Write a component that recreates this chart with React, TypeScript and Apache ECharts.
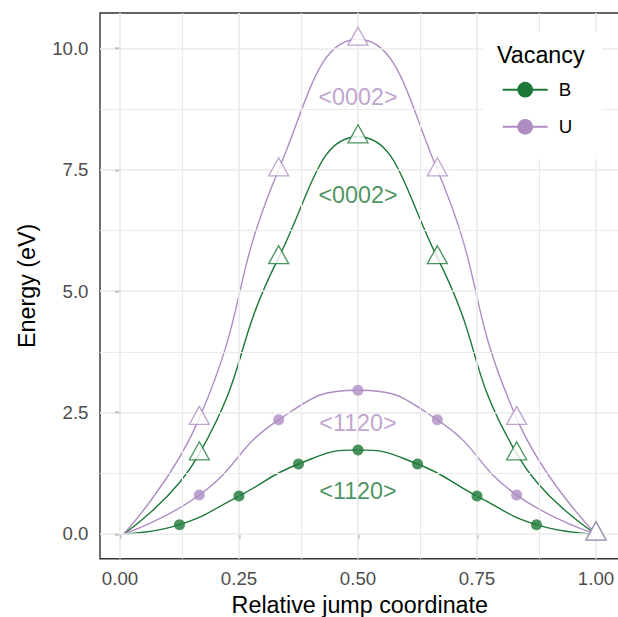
import React, { useEffect, useRef } from "react";
import * as echarts from "echarts";

const FONT = "'Liberation Sans', Arial, Helvetica, sans-serif";
const GREEN = "#1B7837";
const PURPLE = "#AF8DC3";

// <0002> path: images along the jump coordinate
const basalX = [0.0075, 1 / 6, 1 / 3, 1 / 2, 2 / 3, 5 / 6, 1];
const basalB = [0, 1.65, 5.69, 8.18, 5.69, 1.65, 0];
const basalU = [0, 2.38, 7.5, 10.19, 7.5, 2.38, 0];

// <1120> paths
const prismXB = [0.0075, 0.125, 0.25, 0.375, 0.5, 0.625, 0.75, 0.875, 1];
const prismB = [0, 0.19, 0.78, 1.44, 1.73, 1.44, 0.78, 0.19, 0];
const prismXU = [0.0075, 1 / 6, 1 / 3, 1 / 2, 2 / 3, 5 / 6, 1];
const prismU = [0, 0.8, 2.35, 2.96, 2.35, 0.8, 0];

const xTicks = [0, 0.25, 0.5, 0.75, 1];
const xMinor = [0.125, 0.375, 0.625, 0.875];
const yTicks = [0, 2.5, 5, 7.5, 10];
const yMinor = [1.25, 3.75, 6.25, 8.75];

const vacancies = ["B", "U"];
const pathLabels = ["<0002>", "<0002>", "<1120>", "<1120>"];
const pathLabelY = [9.0, 6.99, 2.29, 0.89];
const pathLabelVacancy = ["U", "B", "U", "B"];

const pairs = (xs: number[], ys: number[]) => xs.map((x, i) => [x, ys[i]]);

export default function App() {
  const ref = useRef<HTMLDivElement>(null);

  useEffect(() => {
    if (!ref.current) return;
    const chart = echarts.init(ref.current, undefined, { renderer: "svg" });

    const colorOf = (v: string) => (v === "B" ? GREEN : PURPLE);

    const curve = (name: string, xs: number[], ys: number[]) => ({
      name,
      type: "line",
      data: pairs(xs, ys),
      smooth: true,
      showSymbol: false,
      symbol: "circle",
      z: 3,
      color: colorOf(name),
      lineStyle: { color: colorOf(name), width: 1.4 },
      itemStyle: { color: colorOf(name) },
    });

    const triangles = (name: string, xs: number[], ys: number[]) => ({
      name: name + " <0002> images",
      type: "scatter",
      data: pairs(xs, ys).slice(1),
      symbol: "triangle",
      symbolSize: [20, 18],
      symbolOffset: [0, -3],
      z: 5,
      itemStyle: { color: "#ffffff", borderColor: colorOf(name), borderWidth: 1.3 },
    });

    const dots = (name: string, xs: number[], ys: number[]) => ({
      name: name + " <1120> images",
      type: "scatter",
      data: pairs(xs, ys).slice(1, -1),
      symbol: "circle",
      symbolSize: 11,
      z: 5,
      itemStyle: { color: colorOf(name) },
    });

    const gridLine = (axis: "xAxis" | "yAxis", v: number, width: number) => ({
      [axis]: v,
      lineStyle: { color: "#EBEBEB", width, type: "solid" },
    });

    const option = {
      animation: false,
      backgroundColor: "#ffffff",
      textStyle: { fontFamily: FONT },
      grid: {
        left: 100,
        top: 13,
        width: 519.6,
        height: 545.7,
        show: true,
        borderColor: "#333333",
        borderWidth: 1.4,
        backgroundColor: "#ffffff",
        containLabel: false,
        outerBoundsMode: "none",
      },
      xAxis: {
        type: "value",
        min: -0.042,
        max: 1.0496,
        name: "Relative jump coordinate",
        nameLocation: "middle",
        nameGap: 34.5,
        nameTextStyle: { fontSize: 23.3, color: "#000000", fontFamily: FONT },
        axisLine: { show: false },
        axisTick: {
          show: true,
          customValues: xTicks,
          length: 5,
          lineStyle: { color: "#333333", width: 1.4 },
        },
        axisLabel: {
          customValues: xTicks,
          formatter: (v: number) => v.toFixed(2),
          color: "#4D4D4D",
          fontSize: 18.7,
          fontFamily: FONT,
          margin: 10,
        },
        splitLine: { show: false },
      },
      yAxis: {
        type: "value",
        min: -0.511,
        max: 10.73,
        name: "Energy (eV)",
        nameLocation: "middle",
        nameGap: 61.3,
        nameTextStyle: { fontSize: 23.3, color: "#000000", fontFamily: FONT },
        axisLine: { show: false },
        axisTick: {
          show: true,
          customValues: yTicks,
          length: 5,
          lineStyle: { color: "#333333", width: 1.4 },
        },
        axisLabel: {
          customValues: yTicks,
          formatter: (v: number) => v.toFixed(1),
          color: "#4D4D4D",
          fontSize: 18.7,
          fontFamily: FONT,
          margin: 11.5,
        },
        splitLine: { show: false },
      },
      legend: {
        data: vacancies,
        orient: "vertical",
        left: 501.7,
        top: 80.2,
        padding: 0,
        itemWidth: 45,
        itemHeight: 19.6,
        itemGap: 18.1,
        selectedMode: false,
        z: 20,
        textStyle: { fontSize: 18.7, color: "#000000", fontFamily: FONT, padding: [0, 0, 0, 6] },
      },
      graphic: [
        {
          type: "rect",
          z: 15,
          silent: true,
          shape: { x: 483, y: 32, width: 119, height: 127 },
          style: { fill: "#ffffff" },
        },
        {
          type: "text",
          z: 21,
          silent: true,
          x: 497,
          y: 54.7,
          style: {
            text: "Vacancy",
            font: `23.3px ${FONT}`,
            fill: "#000000",
            verticalAlign: "middle",
            textVerticalAlign: "middle",
          },
        },
      ],
      series: [
        {
          name: "panel grid",
          type: "line",
          data: [],
          z: 1,
          silent: true,
          markLine: {
            silent: true,
            symbol: ["none", "none"],
            label: { show: false },
            emphasis: { disabled: true },
            animation: false,
            data: [
              ...xMinor.map((v) => gridLine("xAxis", v, 1.1)),
              ...yMinor.map((v) => gridLine("yAxis", v, 1.1)),
              ...xTicks.map((v) => gridLine("xAxis", v, 1.7)),
              ...yTicks.map((v) => gridLine("yAxis", v, 1.7)),
            ],
          },
        },
        curve("B", prismXB, prismB),
        curve("U", prismXU, prismU),
        curve("B", basalX, basalB),
        curve("U", basalX, basalU),
        dots("B", prismXB, prismB),
        dots("U", prismXU, prismU),
        triangles("B", basalX, basalB),
        triangles("U", basalX, basalU),
        {
          name: "path labels",
          type: "scatter",
          symbolSize: 1,
          z: 6,
          silent: true,
          itemStyle: { color: "rgba(0,0,0,0)" },
          data: pathLabels.map((t, i) => ({
            name: t,
            value: [0.5, pathLabelY[i]],
            label: {
              show: true,
              position: "inside",
              formatter: t,
              color: colorOf(pathLabelVacancy[i]),
              fontSize: 23.3,
              fontFamily: FONT,
            },
          })),
        },
      ],
    };

    chart.setOption(option as any);
    return () => chart.dispose();
  }, []);

  return (
    <div
      ref={ref}
      style={{ position: "fixed", left: 0, top: 0, width: 618, height: 617 }}
    />
  );
}
